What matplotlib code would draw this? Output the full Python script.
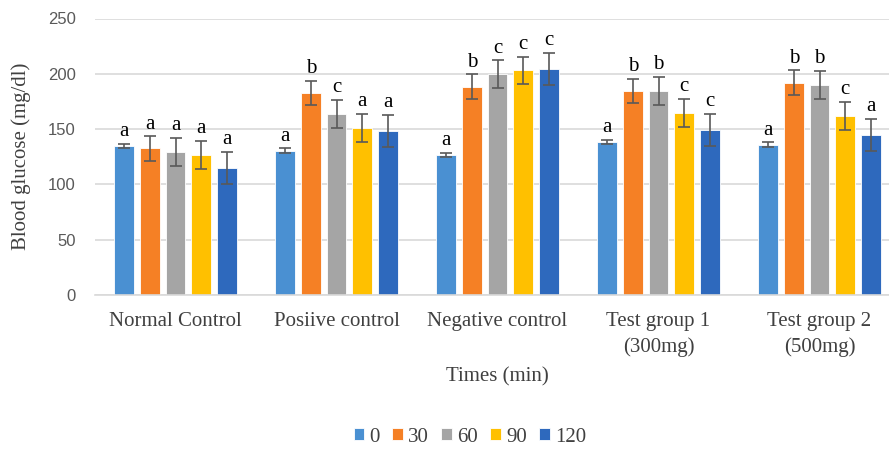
import numpy as np
import matplotlib
matplotlib.use("Agg")
import matplotlib.pyplot as plt

# groups on the x axis
groups = ["Normal Control", "Posiive control", "Negative control",
          "Test group 1\n(300mg)", "Test group 2\n(500mg)"]
times = ["0", "30", "60", "90", "120"]

# mean blood glucose per time point (one list per time)
t0 = [134.5, 130.5, 126.5, 138.5, 136.0]
t30 = [132.5, 182.5, 188.5, 184.5, 192.0]
t60 = [129.0, 163.5, 199.5, 184.5, 190.0]
t90 = [126.5, 151.0, 203.0, 164.5, 162.0]
t120 = [115.0, 148.5, 204.5, 149.0, 145.0]

# error (+/-)
e0 = [2, 2, 2, 2, 2]
e30 = [11, 11, 11, 11, 11]
e60 = [12.8, 12.6, 12.6, 12.8, 12.8]
e90 = [12.5, 12.5, 12.5, 12.5, 12.5]
e120 = [14.5, 14.6, 14.6, 14.5, 14.5]

# significance letters
l0 = ["a", "a", "a", "a", "a"]
l30 = ["a", "b", "b", "b", "b"]
l60 = ["a", "c", "c", "b", "b"]
l90 = ["a", "a", "c", "c", "c"]
l120 = ["a", "a", "c", "c", "a"]

means = [t0, t30, t60, t90, t120]
errs = [e0, e30, e60, e90, e120]
letters = [l0, l30, l60, l90, l120]
colors = ["#4A90D2", "#F58025", "#A5A5A5", "#FFC000", "#2E69BD"]

serif = ["Liberation Serif", "DejaVu Serif"]
txt_gray = "#404040"

fig = plt.figure(figsize=(8.89, 4.5), dpi=100)
ax = fig.add_axes([95 / 889, 155 / 450, 794 / 889, 276.5 / 450])

x = np.arange(len(groups))
pitch = 0.159
width = 0.124
for i, (m, e, lab, c) in enumerate(zip(means, errs, letters, colors)):
    xs = x + (i - 2) * pitch
    ax.bar(xs, m, width, color=c, edgecolor="white", linewidth=0.6,
           label=times[i], zorder=2)
    ax.errorbar(xs, m, yerr=e, fmt="none", ecolor="#595959", elinewidth=1.2,
                capsize=4, capthick=1.2, zorder=3)
    for xi, mi, ei, li in zip(xs, m, e, lab):
        ax.annotate(li, (xi, mi + ei), xytext=(0, 2), textcoords="offset points",
                    ha="center", va="bottom", fontsize=15, family=serif,
                    color="black")

ax.set_xlim(-0.5, -0.5 + 794 / 161)
ax.set_ylim(0, 250)
ax.set_yticks([0, 50, 100, 150, 200, 250])
ax.yaxis.grid(True, color="#D9D9D9", linewidth=1.2, zorder=0)
ax.set_axisbelow(True)
for s in ["top", "right", "left"]:
    ax.spines[s].set_visible(False)
ax.spines["bottom"].set_color("#D9D9D9")
ax.spines["bottom"].set_linewidth(1.2)
ax.tick_params(axis="both", length=0)
ax.tick_params(axis="y", pad=14, labelsize=12, labelcolor="#595959")
ax.tick_params(axis="x", pad=12)

ax.set_xticks(x)
ax.set_xticklabels(groups, fontsize=15, family=serif, color=txt_gray,
                   linespacing=1.45)
for t in ax.get_yticklabels():
    t.set_family(["Liberation Sans", "DejaVu Sans"])

ax.set_ylabel("Blood glucose (mg/dl)", fontsize=15, family=serif,
              color=txt_gray, labelpad=12)
fig.text(497 / 889, 1 - 377 / 450, "Times (min)", ha="center", va="center",
         fontsize=15, family=serif, color=txt_gray)

fig.legend(loc="center", bbox_to_anchor=(470 / 889, 1 - 437 / 450), ncol=5,
           frameon=False, prop={"family": serif, "size": 15},
           labelcolor=txt_gray, handlelength=0.5, handleheight=0.5,
           handletextpad=0.25, columnspacing=0.6)

fig.savefig("out.png", dpi=100)
